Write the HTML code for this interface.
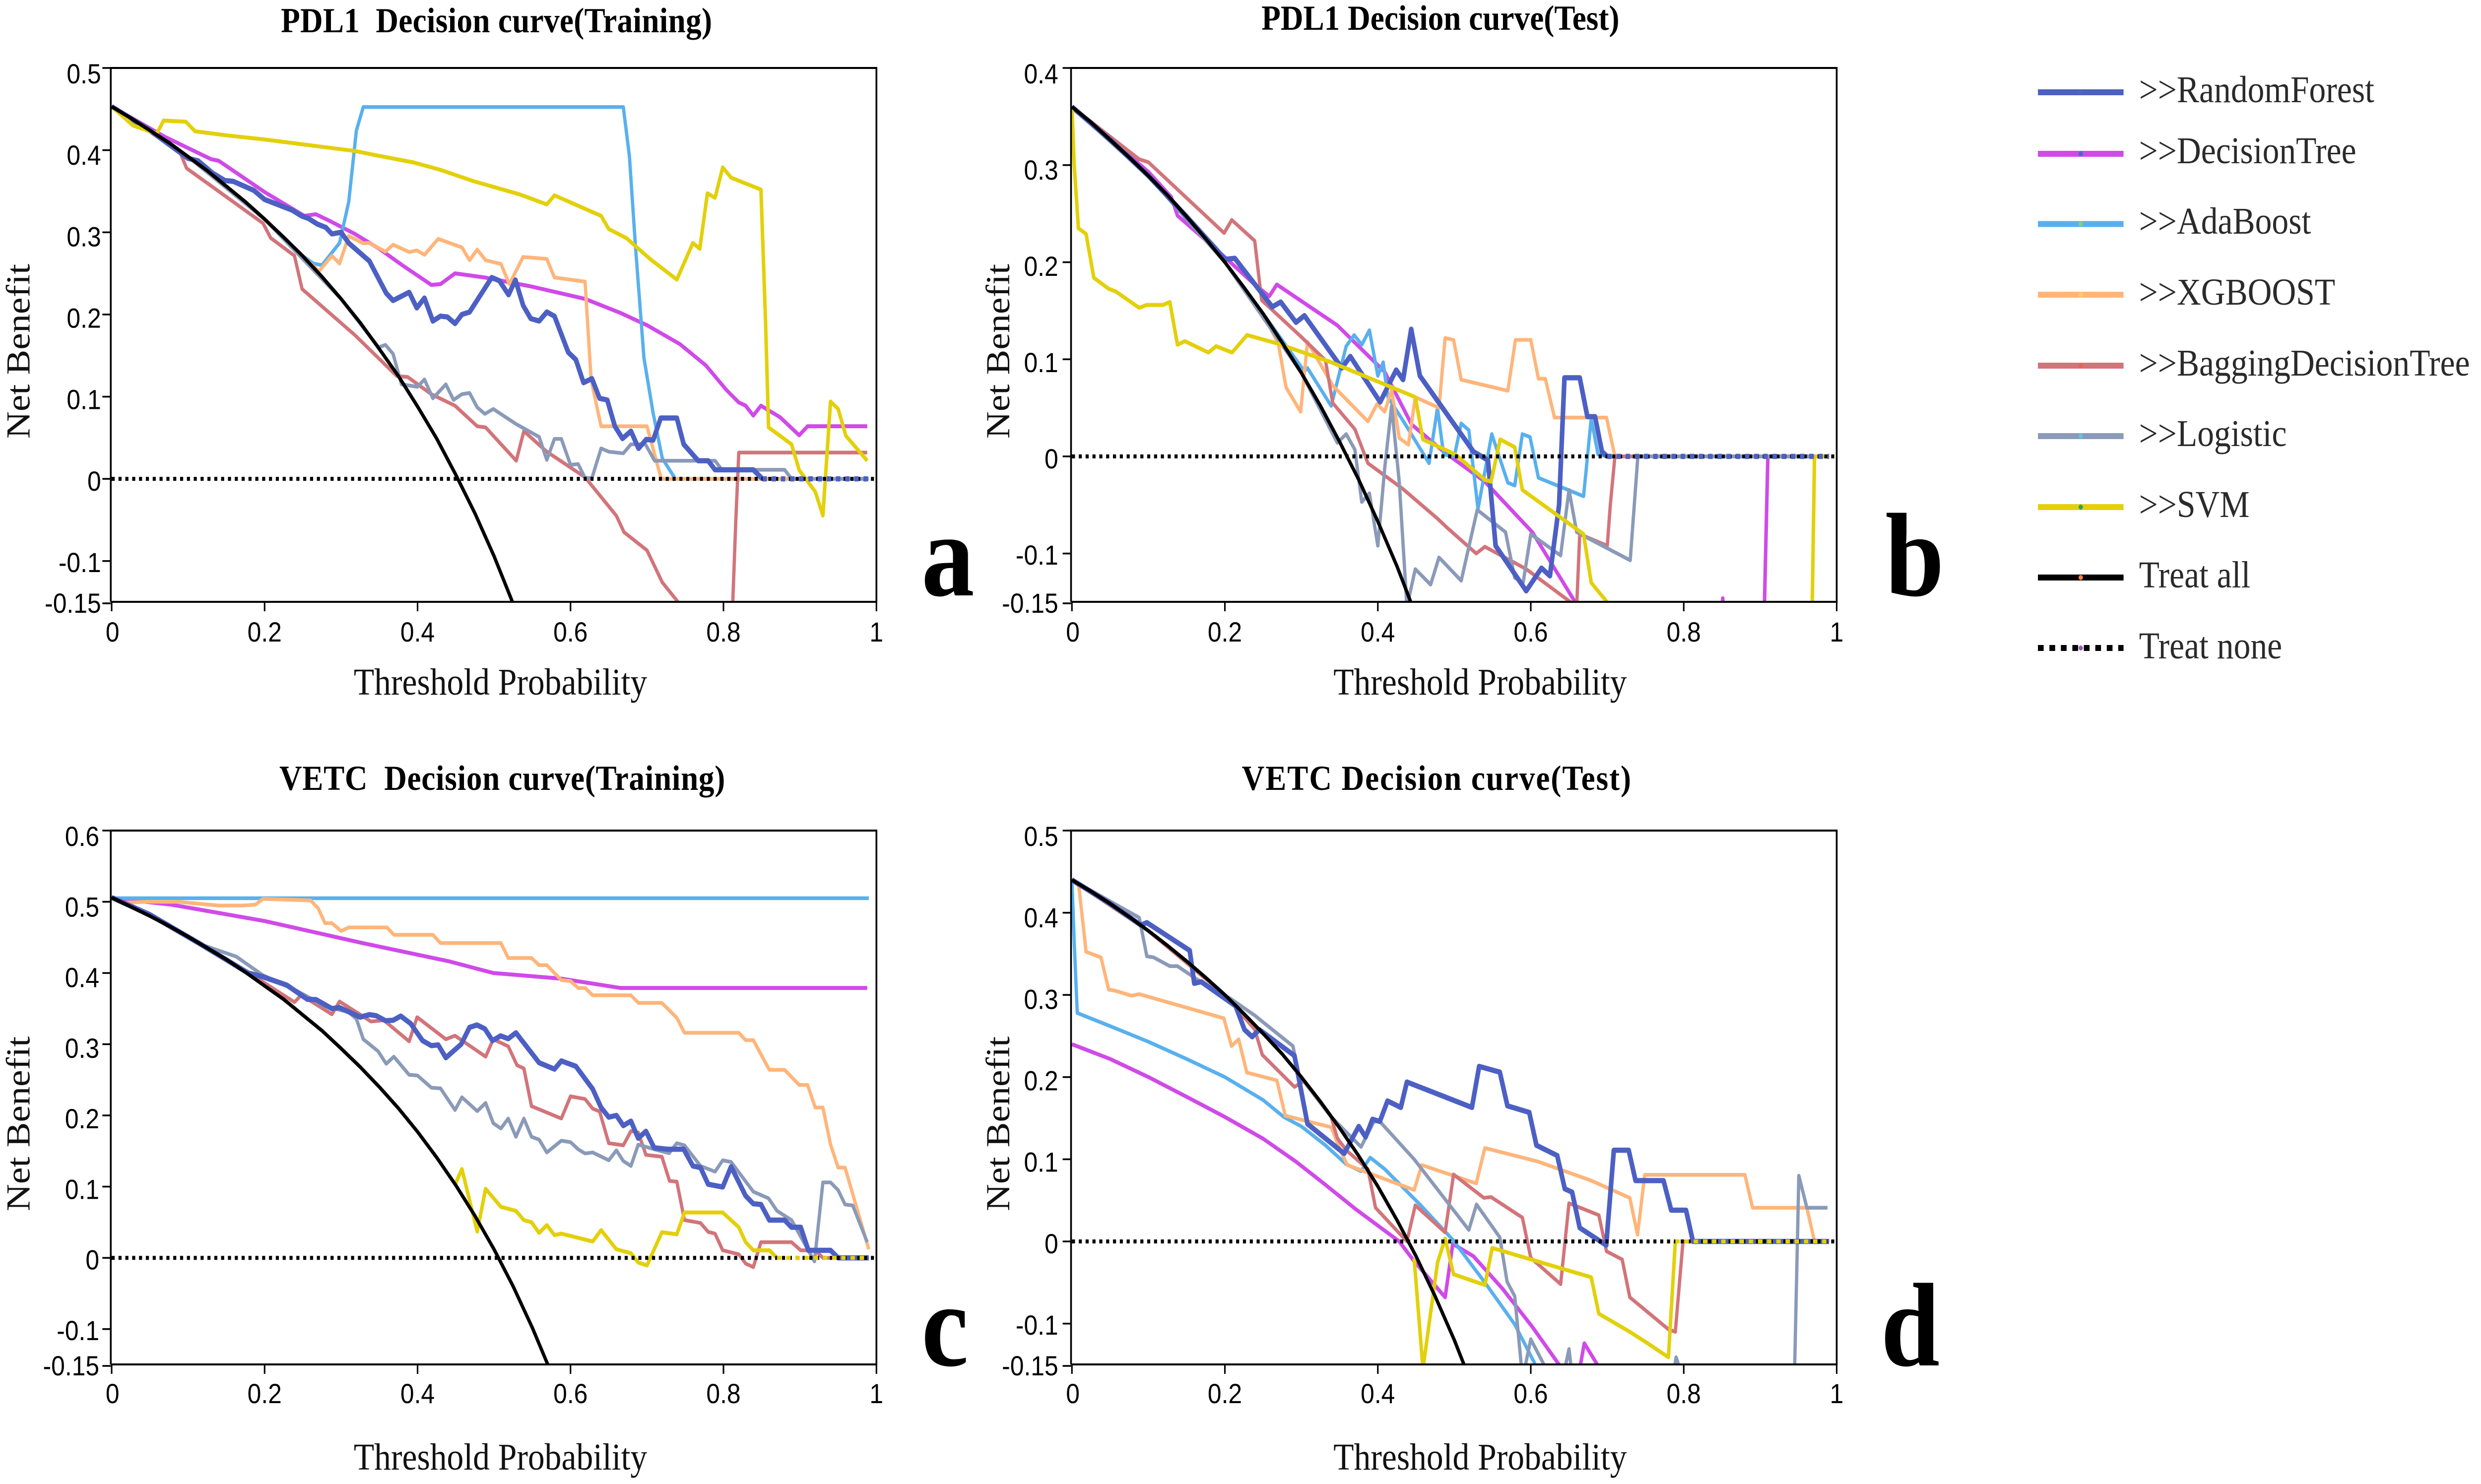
<!DOCTYPE html>
<html lang="en">
<head>
<meta charset="utf-8">
<title>Decision curves</title>
<style>
html,body{margin:0;padding:0;background:#fff;width:100%;height:100%;overflow:hidden;}
svg{display:block;width:100vw;height:100vh;}
text{fill:#000;}
.tick{font-family:"Liberation Sans",sans-serif;font-size:56px;}
.axis{font-family:"Liberation Serif",serif;font-size:76px;fill:#111;}
.title{font-family:"Liberation Serif",serif;font-size:71px;font-weight:bold;}
.letter{font-family:"Liberation Serif",serif;font-size:240px;font-weight:bold;}
.legend{font-family:"Liberation Serif",serif;font-size:76px;fill:#2a2a2a;}
</style>
</head>
<body>
<svg id="chart" xmlns="http://www.w3.org/2000/svg" viewBox="0 0 5622 2991" preserveAspectRatio="none"><rect x="0" y="0" width="5622" height="2991" fill="#ffffff"/></svg>
<script>
const xTickValues=[0,0.2,0.4,0.6,0.8,1];
const xTickLabels=["0","0.2","0.4","0.6","0.8","1"];
const aYTicks=[0.5,0.4,0.3,0.2,0.1,0,-0.1,-0.15];
const bYTicks=[0.4,0.3,0.2,0.1,0,-0.1,-0.15];
const cYTicks=[0.6,0.5,0.4,0.3,0.2,0.1,0,-0.1,-0.15];
const dYTicks=[0.5,0.4,0.3,0.2,0.1,0,-0.1,-0.15];
const seriesNames=[">>RandomForest",">>DecisionTree",">>AdaBoost",">>XGBOOST",">>BaggingDecisionTree",">>Logistic",">>SVM","Treat all","Treat none"];

const noneX=[0,1];
const noneY=[0,0];

const aAllX=[0,.025,.05,.075,.1,.125,.15,.175,.2,.225,.25,.275,.3,.325,.35,.375,.4,.425,.45,.475,.5,.525];
const aAllY=[.453,.439,.424,.409,.392,.375,.356,.337,.316,.294,.271,.246,.219,.19,.158,.125,.088,.049,.005,-.042,-.094,-.152];
const bAllX=[0,.025,.05,.075,.1,.125,.15,.175,.2,.225,.25,.275,.3,.325,.35,.375,.4,.425,.45];
const bAllY=[.36,.344,.326,.308,.289,.269,.247,.224,.2,.174,.147,.117,.086,.052,.015,-.024,-.067,-.113,-.164];
const cAllX=[0,.025,.05,.075,.1,.125,.15,.175,.2,.225,.25,.275,.3,.325,.35,.375,.4,.425,.45,.475,.5,.525,.55,.575];
const cAllY=[.506,.493,.48,.466,.451,.435,.419,.401,.382,.363,.341,.319,.294,.268,.24,.21,.177,.141,.102,.059,.012,-.04,-.098,-.162];
const dAllX=[0,.025,.05,.075,.1,.125,.15,.175,.2,.225,.25,.275,.3,.325,.35,.375,.4,.425,.45,.475,.5,.525];
const dAllY=[.44,.426,.411,.395,.378,.36,.341,.321,.3,.277,.253,.228,.2,.17,.138,.104,.067,.026,-.018,-.067,-.12,-.179];

const aRFX=[0,.05,.1,.113,.132,.148,.159,.186,.2,.236,.248,.257,.269,.28,.288,.3,.31,.337,.359,.368,.389,.399,.409,.42,.43,.439,.449,.458,.468,.497,.507,.519,.528,.538,.548,.559,.569,.579,.597,.607,.617,.628,.638,.648,.658,.668,.679,.689,.699,.708,.718,.739,.748,.767,.78,.789,.839,.851];
const aRFY=[.453,.424,.39,.387,.372,.363,.362,.351,.34,.327,.32,.317,.31,.306,.298,.3,.287,.265,.226,.217,.227,.208,.22,.192,.198,.197,.189,.2,.203,.245,.241,.224,.242,.211,.195,.192,.203,.198,.154,.145,.117,.122,.098,.096,.064,.049,.058,.037,.048,.047,.074,.074,.042,.022,.022,.011,.011,0];
const aDTX=[0,.07,.13,.14,.2,.252,.267,.287,.318,.35,.38,.418,.43,.449,.488,.549,.619,.665,.7,.743,.777,.804,.82,.829,.839,.849,.874,.899,.91,.988];
const aDTY=[.453,.416,.389,.387,.349,.32,.322,.313,.298,.28,.26,.236,.237,.25,.245,.234,.219,.202,.187,.164,.138,.108,.093,.089,.077,.089,.075,.053,.064,.064];
const aABX=[0,.1,.15,.2,.25,.264,.275,.298,.31,.32,.329,.669,.677,.685,.696,.708,.72,.737,.99];
const aABY=[.453,.392,.356,.316,.271,.262,.26,.287,.337,.424,.4525,.4525,.393,.282,.147,.08,.025,0,0];
const aXGX=[0,.1,.2,.25,.271,.288,.298,.31,.329,.337,.358,.368,.389,.399,.409,.427,.458,.468,.478,.489,.509,.52,.538,.569,.579,.619,.627,.64,.7,.718,.72,.99];
const aXGY=[.453,.392,.316,.271,.2525,.2715,.262,.2955,.2866,.287,.2765,.285,.276,.278,.2726,.292,.2816,.266,.279,.266,.2615,.237,.27,.2676,.245,.24,.12,.064,.064,.002,0,0];
const aBGX=[0,.05,.09,.098,.198,.208,.239,.249,.318,.373,.387,.418,.449,.478,.489,.529,.539,.569,.619,.66,.67,.7,.72,.745,.812,.816,.82,.988];
const aBGY=[.453,.424,.396,.378,.311,.293,.2715,.231,.175,.125,.124,.103,.089,.064,.0626,.022,.058,.033,.002,-.045,-.065,-.087,-.126,-.155,-.155,-.054,.032,.032];
const aLRX=[0,.1,.2,.3,.349,.358,.368,.379,.4,.409,.42,.437,.447,.458,.468,.478,.488,.499,.529,.559,.569,.579,.588,.6,.61,.619,.628,.64,.65,.669,.679,.698,.71,.789,.798,.88,.889,.99];
const aLRY=[.453,.392,.316,.219,.16,.163,.152,.115,.112,.121,.098,.115,.096,.103,.1045,.087,.079,.085,.0665,.051,.023,.0486,.0486,.017,.018,.001,.001,.037,.033,.031,.042,.042,.022,.022,.011,.011,0,0];
const aSVX=[0,.028,.059,.068,.097,.109,.15,.2,.25,.318,.35,.395,.43,.472,.534,.569,.579,.64,.65,.673,.704,.739,.76,.769,.779,.789,.799,.81,.849,.855,.859,.889,.899,.92,.93,.94,.95,.96,.988];
const aSVY=[.453,.43,.42,.436,.4346,.423,.418,.413,.407,.399,.393,.385,.376,.3626,.346,.334,.345,.32,.304,.293,.2676,.2425,.287,.28,.3475,.342,.379,.3665,.352,.192,.0626,.042,.0106,-.0156,-.0447,.094,.085,.0525,.022];
const aTailX=[.851,.99];
const aTailY=[0,0];

const bRFX=[0,.05,.1,.15,.189,.2,.213,.262,.273,.293,.304,.353,.364,.403,.424,.433,.4436,.455,.525,.544,.554,.594,.614,.625,.637,.644,.664,.674,.684,.693,.7];
const bRFY=[.36,.326,.289,.247,.213,.203,.204,.154,.159,.138,.145,.091,.103,.056,.089,.079,.131,.083,.005,-.004,-.092,-.1385,-.115,-.123,-.05,.081,.081,.041,.041,.005,0];
const bDTX=[0,.1,.13,.138,.189,.239,.258,.268,.347,.409,.444,.486,.54,.602,.658,.66,.848,.851,.853,.905,.91,.99];
const bDTY=[.36,.293,.267,.248,.213,.177,.165,.177,.135,.087,.033,.005,-.026,-.078,-.15,-.17,-.17,-.146,-.17,-.17,0,0];
const bABX=[0,.1,.2,.25,.304,.308,.339,.3586,.369,.379,.389,.4,.407,.413,.436,.467,.478,.486,.5,.509,.519,.531,.549,.57,.579,.589,.599,.61,.669,.679,.688,.7,.99];
const bABY=[.36,.289,.2,.147,.0875,.091,.052,.1135,.125,.115,.13,.083,.097,.0615,.033,-.007,.05,.002,0,.034,.027,-.054,.023,-.027,-.03,.023,.02,-.022,-.041,.039,.002,0,0];
const bXGX=[0,.1,.2,.25,.27,.28,.299,.308,.341,.387,.399,.409,.418,.428,.44,.449,.48,.488,.499,.509,.57,.58,.6,.61,.619,.631,.699,.71,.99];
const bXGY=[.36,.289,.2,.147,.116,.071,.046,.118,.073,.036,.054,.046,.0686,.019,.012,.061,.05,.122,.12,.079,.0676,.12,.12,.08,.08,.04,.04,0,0];
const bBGX=[0,.057,.088,.1,.199,.209,.239,.248,.3,.3315,.341,.37,.387,.432,.478,.49,.5286,.54,.594,.652,.66,.664,.7,.704,.71,.99];
const bBGY=[.36,.325,.306,.303,.23,.2435,.222,.161,.123,.099,.055,.028,-.007,-.033,-.064,-.073,-.1,-.093,-.116,-.15,-.155,-.08,-.092,-.05,0,0];
const bLRX=[0,.1,.2,.3,.347,.3586,.37,.379,.389,.4,.409,.418,.428,.438,.449,.469,.48,.509,.53,.567,.579,.59,.6,.639,.65,.66,.73,.74,.99];
const bLRY=[.36,.289,.2,.086,.014,.023,.007,-.047,-.038,-.092,-.012,.052,-.026,-.155,-.116,-.132,-.104,-.128,-.055,-.078,-.125,-.13,-.08,-.102,-.0345,-.078,-.107,0,0];
const bSVX=[0,.003,.0085,.0185,.0286,.048,.057,.088,.098,.119,.128,.138,.1476,.1785,.1886,.2094,.229,.27,.339,.44,.449,.459,.5015,.54,.548,.56,.579,.589,.669,.679,.705,.968,.971,.99];
const bSVY=[.36,.3,.235,.229,.184,.1726,.17,.153,.156,.156,.159,.115,.1187,.107,.1135,.107,.125,.116,.097,.064,.061,.0175,.002,-.024,-.026,.0175,.0095,-.0345,-.08,-.13,-.155,-.155,0,0];
const bTailX=[.7,.99];
const bTailY=[0,0];

const cRFX=[0,.05,.117,.1785,.198,.229,.256,.267,.288,.298,.325,.337,.346,.358,.368,.378,.391,.4065,.418,.427,.437,.457,.468,.4776,.488,.498,.5085,.5186,.5286,.559,.579,.588,.607,.629,.64,.65,.66,.669,.679,.6885,.6986,.7094,.727,.748,.76,.77,.78,.799,.81,.829,.839,.849,.86,.88,.889,.901,.911,.94,.95,.99];
const cRFY=[.506,.482,.44,.4,.3946,.383,.363,.3627,.35,.3515,.338,.3415,.34,.333,.3336,.3395,.329,.305,.298,.299,.281,.3,.3236,.327,.3216,.305,.3117,.3077,.316,.274,.265,.2765,.269,.237,.211,.1976,.2,.1857,.192,.168,.1777,.1545,.1525,.1525,.129,.1267,.1034,.0995,.128,.087,.076,.075,.053,.053,.043,.043,.0106,.0106,0,0];
const cDTX=[0,.078,.2,.33,.441,.499,.588,.665,.988];
const cDTY=[.505,.496,.473,.4416,.4164,.4,.392,.379,.379];
const cABX=[0,.99];
const cABY=[.505,.505];
const cXGX=[0,.016,.047,.086,.14,.171,.188,.198,.26,.27,.279,.288,.3,.31,.36,.369,.42,.43,.509,.5186,.549,.559,.569,.588,.6,.61,.619,.629,.679,.689,.7195,.739,.749,.82,.829,.839,.86,.88,.899,.91,.92,.93,.94,.95,.959,.99];
const cXGY=[.505,.4987,.5,.5,.4947,.4947,.496,.504,.502,.491,.47,.47,.459,.464,.464,.4536,.4536,.442,.442,.421,.421,.411,.411,.39,.3886,.379,.379,.3687,.3687,.358,.358,.337,.316,.316,.3057,.3057,.264,.264,.2427,.2427,.211,.211,.159,.1267,.1267,.012];
const cBGX=[0,.05,.117,.194,.239,.248,.288,.298,.339,.356,.389,.3995,.437,.449,.489,.499,.5186,.53,.539,.549,.588,.6,.619,.629,.638,.65,.669,.679,.6885,.6986,.7195,.7295,.739,.749,.77,.78,.789,.799,.82,.829,.839,.849,.889,.901,.92,.93,.99];
const cBGY=[.506,.482,.44,.39,.359,.369,.342,.36,.332,.3336,.304,.338,.307,.312,.2825,.307,.297,.2705,.266,.213,.1956,.2268,.223,.2095,.2056,.161,.158,.178,.176,.1446,.142,.108,.107,.053,.049,.0365,.034,.0106,.005,-.008,-.013,.022,.022,.0106,.0106,0,0];
const cLRX=[0,.05,.117,.163,.198,.239,.279,.31,.32,.329,.3485,.359,.369,.389,.4,.418,.43,.449,.458,.478,.489,.499,.509,.5186,.5286,.539,.549,.559,.569,.588,.6,.61,.619,.629,.65,.66,.669,.679,.6885,.7094,.729,.739,.749,.77,.789,.799,.81,.839,.859,.87,.889,.919,.93,.94,.95,.959,.969,.988];
const cLRY=[.506,.482,.44,.423,.3966,.3767,.3534,.345,.3355,.307,.29,.2725,.2825,.257,.256,.239,.238,.2076,.2255,.206,.2175,.189,.1817,.1956,.17,.1956,.17,.166,.148,.1645,.1625,.1525,.1466,.148,.137,.151,.136,.129,.159,.1525,.147,.161,.158,.129,.121,.137,.1346,.093,.0835,.066,.053,-.005,.106,.106,.095,.075,.0736,.022];
const cSVX=[.449,.458,.478,.489,.509,.5286,.539,.549,.559,.569,.579,.588,.629,.64,.66,.679,.6885,.7,.7195,.739,.749,.799,.82,.829,.839,.86,.87];
const cSVY=[.103,.1247,.037,.097,.0716,.066,.053,.05,.035,.046,.032,.034,.023,.039,.012,.0066,-.0066,-.0106,.036,.033,.0637,.0637,.043,.022,.0106,.0106,0];
const cTailX=[.87,.99];
const cTailY=[0,0];

const dRFX=[0,.05,.09,.098,.154,.16,.169,.214,.2257,.2357,.245,.291,.308,.356,.375,.384,.393,.4026,.4127,.43,.438,.523,.5325,.5595,.5695,.598,.6074,.6345,.6445,.654,.664,.6986,.7086,.728,.737,.7735,.7836,.803,.812,.99];
const dRFY=[.44,.411,.385,.388,.354,.314,.316,.2865,.2577,.249,.2577,.226,.143,.107,.14,.127,.1487,.146,.171,.163,.194,.163,.213,.206,.165,.157,.117,.1045,.064,.06,.0166,-.0046,.111,.111,.074,.074,.038,.038,0,0];
const dDTX=[0,.05,.1,.15,.2,.25,.293,.33,.37,.428,.447,.488,.498,.525,.5634,.602,.637,.64,.66,.665,.67,.687,.7];
const dDTY=[.24,.222,.2,.176,.1515,.125,.097,.07,.04,0,-.0235,-.068,-.003,-.018,-.058,-.104,-.15,-.17,-.17,-.15,-.124,-.15,-.17];
const dABX=[0,.003,.007,.05,.1,.15,.2,.25,.277,.3,.3315,.3586,.378,.39,.409,.455,.498,.54,.579,.606,.62];
const dABY=[.44,.364,.278,.262,.243,.222,.2,.172,.1515,.14,.117,.094,.0855,.102,.088,.045,.002,-.05,-.101,-.15,-.18];
const dXGX=[0,.009,.0185,.038,.048,.057,.078,.088,.1986,.2087,.218,.2287,.268,.279,.339,.351,.36,.4475,.4575,.5286,.54,.61,.679,.7295,.7396,.749,.88,.89,.961,.971,.99];
const dXGY=[.44,.433,.3525,.3456,.3065,.305,.299,.301,.2715,.2377,.246,.2055,.196,.153,.139,.111,.093,.0626,.093,.0706,.1137,.097,.074,.053,.008,.081,.081,.041,.041,0,0];
const dBGX=[0,.1,.2,.239,.249,.291,.303,.339,.347,.3586,.387,.397,.438,.449,.488,.499,.5386,.548,.589,.6,.639,.65,.689,.699,.7195,.7295,.78,.789,.799,.99];
const dBGY=[.44,.378,.3,.258,.227,.188,.195,.1515,.1257,.111,.088,.041,0,.044,.011,.0815,.053,.054,.029,-.02,-.052,.0465,.032,-.012,-.022,-.068,-.107,-.11,0,0];
const dLRX=[0,.067,.088,.098,.107,.128,.138,.165,.208,.239,.289,.297,.339,.378,.395,.4026,.4475,.519,.529,.5595,.569,.579,.588,.592,.6,.62,.6445,.65,.653,.7875,.79,.795,.945,.9505,.961,.988];
const dLRY=[.44,.405,.394,.347,.3456,.335,.335,.318,.295,.275,.2377,.203,.1515,.115,.146,.146,.1,.014,.045,.005,-.049,-.0666,-.155,-.155,-.119,-.155,-.155,-.131,-.155,-.155,-.141,-.155,-.155,.08,.041,.041];
const dSVX=[.4475,.459,.478,.488,.499,.54,.5495,.679,.689,.7295,.7527,.78,.789];
const dSVY=[-.0207,-.155,-.026,.0034,-.04,-.053,-.008,-.0436,-.088,-.11,-.124,-.141,0];
const dTailX=[.789,.99];
const dTailY=[0,0];

const NS="http://www.w3.org/2000/svg";
const root=document.getElementById("chart");
const colors={RF:"#4c60c4",DT:"#d04ae8",AB:"#58b0ee",XG:"#ffb57a",BG:"#d2747a",LR:"#8a9ab8",SV:"#e3d00a",TA:"#000000"};
const widths={RF:10.5,DT:8,AB:7.5,XG:7.5,BG:7.5,LR:7.5,SV:8,TA:7.5};

function make(tag,name,interact,props,parent){
  const el=document.createElementNS(NS,tag);
  
  
  for(const k in props){el.setAttribute(k,props[k]);}
  (parent||root).appendChild(el);
  return el;
}
function label(cls,name,x,y,anchor,str,parent,extra){
  const t=make('text',name,'false',Object.assign({class:cls,x:x,y:y,'text-anchor':anchor},extra||{}),parent);
  t.textContent=str;
  return t;
}

function drawPanel(p){
  const g=make('g','panel-'+p.id,'false',{},root);
  const sx=v=>p.x0+v*(p.x1-p.x0);
  const sy=v=>p.top+(p.yMax-v)/(p.yMax-p.yMin)*(p.bot-p.top);
  const clipId='clip-'+p.id;
  const defs=make('defs','clip-defs-'+p.id,'false',{},g);
  const cp=make('clipPath','plot-clip-'+p.id,'false',{id:clipId},defs);
  make('rect','plot-clip-rect-'+p.id,'false',{x:p.x0-3,y:p.top-2,width:p.x1-p.x0+3,height:p.frameBot-p.top+2},cp);
  label('title','chart-title-'+p.id,p.titleX,p.titleY,'middle',p.title,g,{textLength:p.titleLen,lengthAdjust:'spacing',style:'white-space:pre'});
  const plot=make('g','plot-area-'+p.id,'false',{'clip-path':'url(#'+clipId+')'},g);
  const order=['DT','AB','XG','BG','LR','RF','SV','TA'];
  const names={DT:'decision-tree',AB:'adaboost',XG:'xgboost',BG:'bagging-decision-tree',LR:'logistic',RF:'random-forest',SV:'svm',TA:'treat-all'};
  order.forEach(k=>{
    const xs=p.series[k][0],ys=p.series[k][1];
    const pts=[];
    for(let i=0;i<Math.min(xs.length,ys.length);i++){pts.push(sx(xs[i]).toFixed(1)+','+sy(ys[i]).toFixed(1));}
    make('polyline','line-'+names[k]+'-'+p.id,'false',{points:pts.join(' '),fill:'none',stroke:colors[k],'stroke-width':widths[k],'stroke-linejoin':'round','stroke-linecap':'butt'},plot);
  });
  make('line','line-treat-none-'+p.id,'false',{x1:sx(noneX[0]),y1:sy(noneY[0]),x2:sx(noneX[1])-4,y2:sy(noneY[1]),stroke:'#000','stroke-width':8,'stroke-dasharray':'7 8.5'},plot);
  make('line','zero-tail-'+p.id,'false',{x1:sx(p.tail[0][0]),y1:sy(p.tail[1][0]),x2:sx(p.tail[0][1]),y2:sy(p.tail[1][1]),stroke:colors[p.tailKey],'stroke-width':widths[p.tailKey],'stroke-dasharray':'10 10.8'},plot);
  make('path','plot-frame-'+p.id,'false',{d:'M'+(p.x0-2)+' '+p.frameBot+'V'+p.top+'H'+p.x1+'V'+p.frameBot+'H'+(p.x0-2),fill:'none',stroke:'#000','stroke-width':4},g);
  const ax=make('g','x-axis-'+p.id,'false',{},g);
  xTickValues.forEach((v,i)=>{
    make('line','x-tick-'+xTickLabels[i],'false',{x1:sx(v),x2:sx(v),y1:p.frameBot,y2:p.frameBot+19,stroke:'#000','stroke-width':3.5},ax);
    label('tick','x-tick-label-'+xTickLabels[i],sx(v)+(i===0?2:0),p.frameBot+p.xLabOff,'middle',xTickLabels[i],ax);
  });
  const ay=make('g','y-axis-'+p.id,'false',{},g);
  p.yTicks.forEach(v=>{
    const y=sy(v);
    const ty=v===p.yMin?y+2.5:y;
    make('line','y-tick-'+v,'false',{x1:p.x0-21,x2:p.x0-2,y1:ty,y2:ty,stroke:'#000','stroke-width':3.5},ay);
    const off=31-9.5*(y-p.top)/(p.bot-p.top);
    label('tick','y-tick-label-'+v,p.x0-p.yLabOff,y+off,'end',String(v),ay);
  });
  label('axis','x-axis-title-'+p.id,p.xTitleX,p.xTitleY,'middle','Threshold Probability',g);
  label('axis','y-axis-title-'+p.id,0,0,'middle','Net Benefit',g,{transform:'translate('+p.yTitleX+' '+p.yTitleY+') rotate(-90)'});
  label('letter','panel-letter-'+p.letter,p.letterX,p.letterY,'start',p.letter,g);
}

const panels=[
 {id:'a',letter:'a',letterX:2088,letterY:1200,title:'PDL1  Decision curve(Training)',titleX:1125,titleY:65,titleLen:977,x0:253,x1:1986,top:137,bot:1213.5,frameBot:1213,yMax:.5,yMin:-.15,yTicks:aYTicks,xLabOff:80,yLabOff:24,xTitleX:1134,xTitleY:1400,yTitleX:67,yTitleY:708,tail:[aTailX,aTailY],tailKey:'RF',
  series:{RF:[aRFX,aRFY],DT:[aDTX,aDTY],AB:[aABX,aABY],XG:[aXGX,aXGY],BG:[aBGX,aBGY],LR:[aLRX,aLRY],SV:[aSVX,aSVY],TA:[aAllX,aAllY]}},
 {id:'b',letter:'b',letterX:4272,letterY:1200,title:'PDL1 Decision curve(Test)',titleX:3264,titleY:60,titleLen:811,x0:2429,x1:4162,top:137,bot:1213.5,frameBot:1213,yMax:.4,yMin:-.15,yTicks:bYTicks,xLabOff:80,yLabOff:31,xTitleX:3354,xTitleY:1400,yTitleX:2287,yTitleY:708,tail:[bTailX,bTailY],tailKey:'RF',
  series:{RF:[bRFX,bRFY],DT:[bDTX,bDTY],AB:[bABX,bABY],XG:[bXGX,bXGY],BG:[bBGX,bBGY],LR:[bLRX,bLRY],SV:[bSVX,bSVY],TA:[bAllX,bAllY]}},
 {id:'c',letter:'c',letterX:2088,letterY:2752,title:'VETC  Decision curve(Training)',titleX:1138,titleY:1592,titleLen:1010,x0:253,x1:1986,top:1674,bot:2750.5,frameBot:2750,yMax:.6,yMin:-.15,yTicks:cYTicks,xLabOff:78,yLabOff:28,xTitleX:1134,xTitleY:2962,yTitleX:67,yTitleY:2265,tail:[cTailX,cTailY],tailKey:'SV',
  series:{RF:[cRFX,cRFY],DT:[cDTX,cDTY],AB:[cABX,cABY],XG:[cXGX,cXGY],BG:[cBGX,cBGY],LR:[cLRX,cLRY],SV:[cSVX,cSVY],TA:[cAllX,cAllY]}},
 {id:'d',letter:'d',letterX:4262,letterY:2752,title:'VETC Decision curve(Test)',titleX:3255,titleY:1592,titleLen:882,x0:2429,x1:4162,top:1674,bot:2750.5,frameBot:2750,yMax:.5,yMin:-.15,yTicks:dYTicks,xLabOff:78,yLabOff:31,xTitleX:3354,xTitleY:2962,yTitleX:2287,yTitleY:2265,tail:[dTailX,dTailY],tailKey:'SV',
  series:{RF:[dRFX,dRFY],DT:[dDTX,dDTY],AB:[dABX,dABY],XG:[dXGX,dXGY],BG:[dBGX,dBGY],LR:[dLRX,dLRY],SV:[dSVX,dSVY],TA:[dAllX,dAllY]}}
];
panels.forEach(drawPanel);

const legendGroup=make('g','legend','false',{},root);
const legendColors=[colors.RF,colors.DT,colors.AB,colors.XG,colors.BG,colors.LR,colors.SV,'#000000','#000000'];
const legendDots=['#4a68b8','#3f6fc0','#8fce6e','#ffd060','#f06050','#66c2e0','#2aa070','#f58040','#9b59b6'];
const legendLineY=[186,310,451.5,594,737,879,1022,1164,1306];
const legendTextY=[206,329,471,614,757,899,1042,1184,1327];
seriesNames.forEach((s,i)=>{
  const key=s.replace(/[^A-Za-z]+/g,'-').replace(/^-/,'').toLowerCase();
  const e=make('g','legend-entry-'+key,'false',{},legendGroup);
  const attrs={x1:4618,x2:4812,y1:legendLineY[i],y2:legendLineY[i],stroke:legendColors[i],'stroke-width':12};
  if(i===8){attrs['stroke-dasharray']='13 13';}
  make('line','legend-swatch-'+key,'false',attrs,e);
  make('circle','legend-dot-'+key,'false',{cx:4715,cy:legendLineY[i],r:5,fill:legendDots[i]},e);
  label('legend','legend-label-'+key,4847,legendTextY[i],'start',s,e);
});
</script>
</body>
</html>
